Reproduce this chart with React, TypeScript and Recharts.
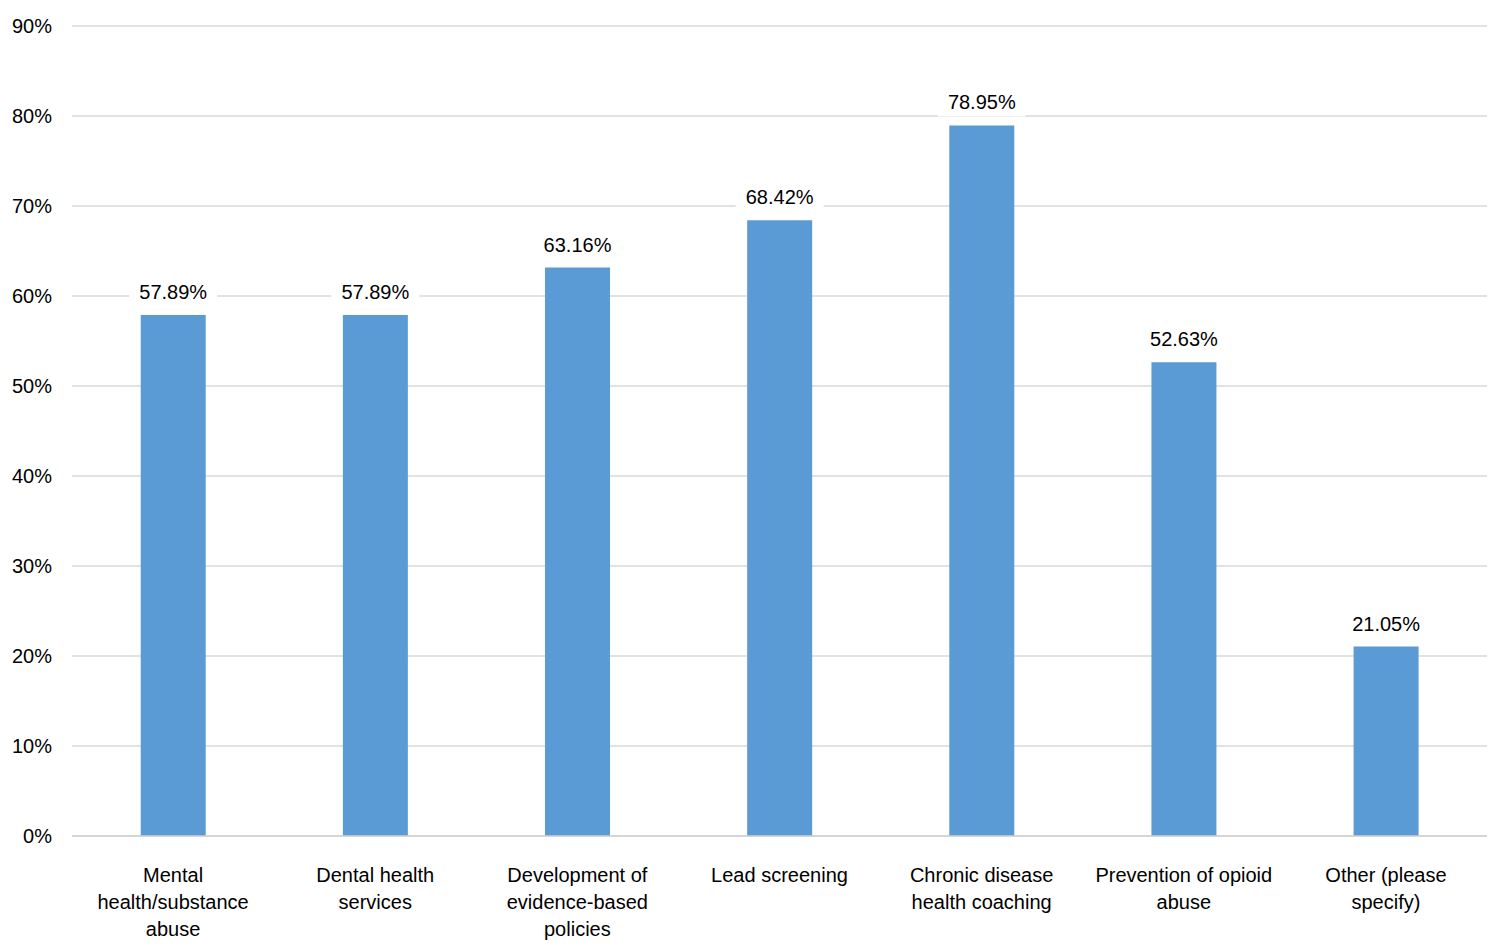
import React from "react";
import { BarChart, Bar, XAxis, YAxis, CartesianGrid, LabelList } from "recharts";

// Category labels, split into the lines they are drawn on
const categories: string[][] = [
  ["Mental", "health/substance", "abuse"],
  ["Dental health", "services"],
  ["Development of", "evidence-based", "policies"],
  ["Lead screening"],
  ["Chronic disease", "health coaching"],
  ["Prevention of opioid", "abuse"],
  ["Other (please", "specify)"],
];
const values: number[] = [57.89, 57.89, 63.16, 68.42, 78.95, 52.63, 21.05];
const yTicks: number[] = [0, 10, 20, 30, 40, 50, 60, 70, 80, 90];

const data = categories.map((c, i) => ({ name: c.join(" "), lines: c, value: values[i] }));

const FONT = "'Liberation Sans', Arial, sans-serif";

const CategoryTick = (props: any) => {
  const { x, y, index } = props;
  const lines = categories[index] || [];
  return (
    <g>
      {lines.map((l, i) => (
        <text key={i} x={x} y={y + 38 + i * 27} textAnchor="middle" fontSize={20} fill="#000" fontFamily={FONT}>
          {l}
        </text>
      ))}
    </g>
  );
};

const ValueLabel = (props: any) => {
  const { x, y, width, value } = props;
  const cx = x + width / 2;
  const text = `${Number(value).toFixed(2)}%`;
  return (
    <g>
      <rect x={cx - 44} y={y - 37} width={88} height={28} fill="#fff" />
      <text x={cx} y={y - 16} textAnchor="middle" fontSize={20} fill="#000" fontFamily={FONT}>
        {text}
      </text>
    </g>
  );
};

export default function App() {
  return (
    <div style={{ position: "absolute", left: 0, top: 0, width: 1500, height: 952, background: "#fff" }}>
      <BarChart
        width={1500}
        height={952}
        data={data}
        margin={{ top: 26, right: 13, left: 0, bottom: 0 }}
        barCategoryGap="34%"
      >
        <CartesianGrid vertical={false} stroke="#d9d9d9" strokeWidth={1.5} />
        <XAxis
          dataKey="name"
          height={116}
          interval={0}
          tickLine={false}
          axisLine={{ stroke: "#d0d0d0", strokeWidth: 1.5 }}
          tick={<CategoryTick />}
        />
        <YAxis
          width={72}
          domain={[0, 90]}
          ticks={yTicks}
          tickFormatter={(v) => `${v}%`}
          axisLine={false}
          tickLine={false}
          tick={{ fontSize: 20, fill: "#000", fontFamily: FONT, dx: -12 }}
        />
        <Bar dataKey="value" fill="#5b9bd5" isAnimationActive={false}>
          <LabelList dataKey="value" content={<ValueLabel />} />
        </Bar>
      </BarChart>
    </div>
  );
}
